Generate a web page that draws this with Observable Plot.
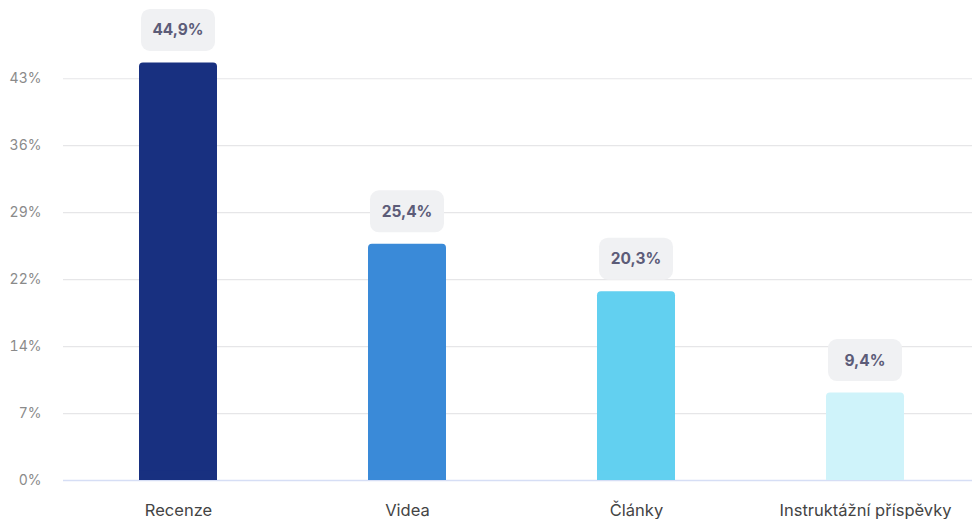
<!DOCTYPE html>
<html><head><meta charset="utf-8">
<script src="https://cdn.jsdelivr.net/npm/d3@7"></script>
<script src="https://cdn.jsdelivr.net/npm/@observablehq/plot@0.6"></script>
<style>
body{margin:0;background:#fff;font-family:Inter,"Noto Sans",sans-serif;}
</style></head><body><div id="chart"></div>
<script>
const categories = ["Recenze", "Videa", "Články", "Instruktážní příspěvky"];
const values = [44.9, 25.4, 20.3, 9.4];
const colors = ["#183080", "#3a8ad8", "#62d0f0", "#cff3fa"];
const yTicks = [0, 7.2, 14.4, 21.6, 28.8, 36, 43.2];

const data = categories.map((c, i) => ({cat: c, v: values[i], color: colors[i]}));
const fmt = v => v.toFixed(1).replace(".", ",") + "%";

const labelMark = Plot.text(data, {
  x: "cat", y: "v", text: d => fmt(d.v),
  render(index, scales, vals, dims, ctx) {
    const g = d3.create("svg:g");
    const xs = scales.x;
    const bw = xs.bandwidth ? xs.bandwidth() : 0;
    for (const i of index) {
      const cx = xs(data[i].cat) + bw / 2, top = scales.y(data[i].v);
      g.append("rect").attr("x", cx - 37).attr("y", top - 53.5).attr("width", 74).attr("height", 42)
        .attr("rx", 9).attr("fill", "#f0f1f3");
      g.append("text").attr("x", cx).attr("y", top - 32.5).attr("dy", "0.35em")
        .attr("text-anchor", "middle").attr("font-size", 15.5).attr("font-weight", 650)
        .attr("fill", "#5c5c78").attr("font-family", "Inter, sans-serif").text(fmt(data[i].v));
    }
    return g.node();
  }
});

const chart = Plot.plot({
  width: 972, height: 519,
  marginLeft: 63, marginRight: 0, marginTop: 15, marginBottom: 39,
  style: {fontFamily: "Inter, sans-serif", background: "#fff"},
  x: {domain: categories, range: [63.5, 979.5], paddingInner: 0.6594, paddingOuter: 0.3297, label: null},
  y: {domain: [0, 50], label: null},
  marks: [
    Plot.ruleY(yTicks.slice(1), {stroke: "#e6e6e8", strokeWidth: 1.2}),
    Plot.ruleY([0], {stroke: "#d6def5", strokeWidth: 1.5}),
    Plot.barY(data, {x: "cat", y: "v", fill: "color", rx: 4}),
    Plot.barY(data, {x: "cat", y1: 0, y2: d => Math.min(d.v, 1), fill: "color"}),
    labelMark,
    Plot.axisY({ticks: yTicks, tickFormat: d => Math.round(d) + "%", tickSize: 0, tickPadding: 22,
      fontSize: 14, color: "#8a8a8a", label: null}),
    Plot.axisX({tickSize: 0, tickPadding: 24, fontSize: 16.5, color: "#444", label: null})
  ]
});
document.getElementById("chart").append(chart);
</script></body></html>
